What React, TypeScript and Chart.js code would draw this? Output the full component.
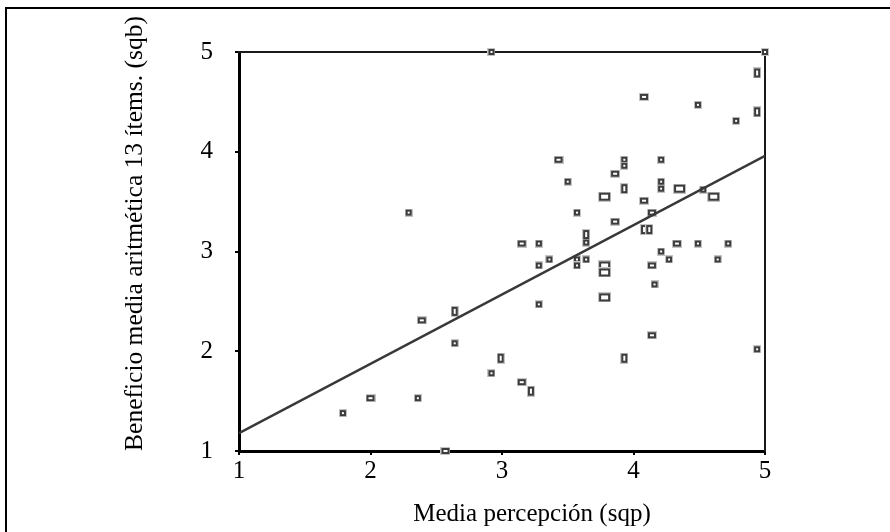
import React, { useEffect, useRef } from "react";
import { Chart, registerables } from "chart.js";

Chart.register(...registerables);

// Data
const xValues = [
  2.29, 2.92, 5.0, 4.94, 4.08, 4.49, 4.94, 4.78, 3.43, 3.93, 3.93, 4.21, 3.86, 3.5, 3.93, 4.21,
  4.21, 4.35, 4.53, 3.78, 4.61, 4.08, 3.57, 4.14, 3.86, 4.08, 4.12, 3.64, 3.64, 3.15, 3.28, 4.33,
  4.49, 4.72, 4.21, 3.36, 3.57, 3.57, 3.64, 4.27, 4.64, 3.28, 3.78, 3.78, 4.14, 4.16, 3.78, 3.28,
  4.14, 4.94, 2.99, 3.93, 2.92, 3.15, 3.22, 2.64, 2.39, 2.64, 2.0, 2.36, 1.79, 2.57,
];
const yValues = [
  3.39, 5.0, 5.0, 4.79, 4.55, 4.47, 4.4, 4.31, 3.92, 3.92, 3.86, 3.92, 3.78, 3.7, 3.63, 3.7,
  3.63, 3.63, 3.62, 3.55, 3.55, 3.51, 3.39, 3.39, 3.3, 3.22, 3.22, 3.17, 3.09, 3.08, 3.08, 3.08,
  3.08, 3.08, 3.0, 2.92, 2.92, 2.86, 2.92, 2.92, 2.92, 2.86, 2.86, 2.79, 2.86, 2.67, 2.54, 2.47,
  2.16, 2.02, 1.93, 1.93, 1.78, 1.69, 1.6, 2.4, 2.31, 2.08, 1.53, 1.53, 1.38, 1.0,
];
// marker kind: s = small square, w = wide, t = tall, b = big
const markerKinds = [
  "s", "s", "s", "t", "w", "s", "t", "s", "w", "s", "s", "s", "w", "s", "t", "s",
  "s", "b", "s", "b", "b", "w", "s", "w", "w", "t", "t", "t", "s", "w", "s", "w",
  "s", "s", "s", "s", "s", "s", "s", "s", "s", "s", "b", "b", "w", "s", "b", "s",
  "w", "s", "t", "t", "s", "w", "t", "t", "w", "s", "w", "s", "s", "w",
];
const fitX = [1, 5];
const fitY = [1.18, 3.96];
const axisTicks = [1, 2, 3, 4, 5];

const xTitle = "Media percepción (sqp)";
const yTitle = "Beneficio media aritmética 13 ítems. (sqb)";

const FONT = '"Liberation Serif", "Times New Roman", serif';

function makeMarker(w: number, h: number): HTMLCanvasElement {
  const c = document.createElement("canvas");
  c.width = w + 2;
  c.height = h + 2;
  const g = c.getContext("2d")!;
  g.fillStyle = "#c4c4c4";
  g.fillRect(0, 0, w + 2, h + 2);
  g.fillStyle = "#3c3c3c";
  g.fillRect(1, 1, w, h);
  g.fillStyle = "#ffffff";
  g.fillRect(3, 3, w - 4, h - 4);
  return c;
}

const axisTitlesPlugin = {
  id: "axisTitles",
  afterDraw(chart: any) {
    const { ctx, chartArea } = chart;
    ctx.save();
    ctx.fillStyle = "#000";
    ctx.textAlign = "center";
    ctx.textBaseline = "middle";
    ctx.font = `25px ${FONT}`;
    ctx.fillText(xTitle, (chartArea.left + chartArea.right) / 2 + 30, chartArea.bottom + 63);
    ctx.translate(135, (chartArea.top + chartArea.bottom) / 2 - 18);
    ctx.rotate(-Math.PI / 2);
    ctx.font = `25.5px ${FONT}`;
    ctx.fillText(yTitle, 0, 0);
    ctx.restore();
  },
};

export default function App() {
  const ref = useRef<HTMLCanvasElement>(null);

  useEffect(() => {
    if (!ref.current) return;
    const markers: Record<string, HTMLCanvasElement> = {
      s: makeMarker(6, 6),
      w: makeMarker(8, 6),
      t: makeMarker(6, 9),
      b: makeMarker(11, 8),
    };
    const points = xValues.map((x, i) => ({ x, y: yValues[i] }));
    const fit = fitX.map((x, i) => ({ x, y: fitY[i] }));

    const chart = new Chart(ref.current, {
      type: "scatter",
      data: {
        datasets: [
          {
            type: "line",
            data: fit,
            borderColor: "#383838",
            borderWidth: 2.5,
            pointRadius: 0,
            fill: false,
          } as any,
          {
            data: points,
            pointStyle: (ctx: any) => markers[markerKinds[ctx.dataIndex]] as any,
            pointRadius: 4,
            clip: false,
          } as any,
        ],
      },
      options: {
        animation: false,
        responsive: false,
        events: [],
        layout: { padding: { left: 0, top: 52, right: 125, bottom: 0 } },
        plugins: { legend: { display: false }, tooltip: { enabled: false } },
        scales: {
          x: {
            type: "linear",
            position: "bottom",
            min: 1,
            max: 5,
            afterBuildTicks: (s: any) => {
              s.ticks = axisTicks.map((v) => ({ value: v }));
            },
            afterFit: (s: any) => {
              s.height = 81;
            },
            ticks: { color: "#000", font: { family: FONT, size: 25 }, padding: 1 },
            grid: { drawOnChartArea: false, drawTicks: true, tickLength: 4, color: "#000", lineWidth: 2 },
            border: { display: true, color: "#000", width: 3 },
          },
          y: {
            type: "linear",
            position: "left",
            min: 1,
            max: 5,
            afterBuildTicks: (s: any) => {
              s.ticks = axisTicks.map((v) => ({ value: v }));
            },
            afterFit: (s: any) => {
              s.width = 239;
            },
            ticks: { color: "#000", font: { family: FONT, size: 25 }, padding: 22 },
            grid: { drawOnChartArea: false, drawTicks: true, tickLength: 4, color: "#000", lineWidth: 2 },
            border: { display: true, color: "#000", width: 3 },
          },
          x2: {
            type: "linear",
            position: "top",
            min: 1,
            max: 5,
            afterFit: (s: any) => {
              s.height = 0;
            },
            ticks: { display: false },
            grid: { display: false },
            border: { display: true, color: "#1a1a1a", width: 2 },
          },
          y2: {
            type: "linear",
            position: "right",
            min: 1,
            max: 5,
            afterFit: (s: any) => {
              s.width = 0;
            },
            ticks: { display: false },
            grid: { display: false },
            border: { display: true, color: "#1a1a1a", width: 2 },
          },
        },
      },
      plugins: [axisTitlesPlugin],
    });
    return () => chart.destroy();
  }, []);

  return (
    <div style={{ position: "absolute", left: 0, top: 0, width: 890, height: 532, overflow: "hidden", background: "#fff" }}>
      <div
        style={{
          position: "absolute",
          left: 5,
          top: 7,
          width: 900,
          height: 600,
          borderLeft: "2px solid #000",
          borderTop: "2px solid #000",
        }}
      />
      <canvas ref={ref} width={890} height={532} style={{ position: "absolute", left: 0, top: 0 }} />
    </div>
  );
}
